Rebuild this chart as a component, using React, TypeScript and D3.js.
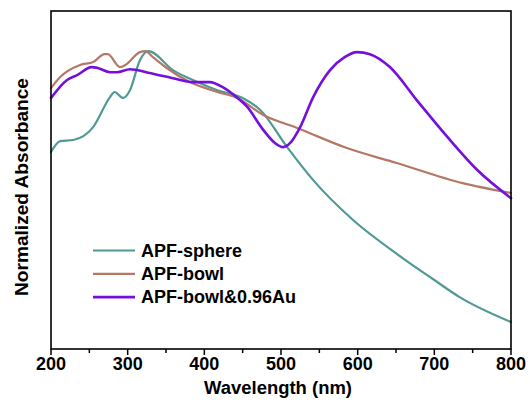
import React from "react";
import * as d3 from "d3";

const sphereWl = [200, 212, 229, 255, 277, 283, 294, 303, 316, 327, 359, 385, 417, 450, 473, 508, 542, 594, 655, 700, 733, 800];
const sphereVal = [0.657, 0.693, 0.697, 0.74, 0.84, 0.857, 0.837, 0.863, 0.963, 0.993, 0.93, 0.897, 0.863, 0.837, 0.797, 0.673, 0.563, 0.43, 0.31, 0.23, 0.173, 0.09];

const bowlWl = [200, 212, 238, 255, 270, 274, 290, 297, 316, 323, 333, 351, 381, 417, 443, 477, 521, 586, 651, 737, 800];
const bowlVal = [0.87, 0.907, 0.947, 0.957, 0.983, 0.983, 0.94, 0.947, 0.99, 0.993, 0.973, 0.937, 0.89, 0.857, 0.837, 0.78, 0.737, 0.67, 0.62, 0.553, 0.52];

const auWl = [200, 221, 234, 253, 261, 277, 286, 303, 312, 329, 359, 385, 407, 424, 437, 456, 477, 492, 503, 512, 525, 542, 564, 583, 599, 616, 642, 677, 717, 756, 800];
const auVal = [0.837, 0.897, 0.913, 0.94, 0.937, 0.923, 0.923, 0.933, 0.93, 0.92, 0.903, 0.89, 0.89, 0.873, 0.85, 0.807, 0.73, 0.687, 0.673, 0.687, 0.74, 0.84, 0.93, 0.973, 0.99, 0.983, 0.94, 0.83, 0.707, 0.597, 0.503];

const seriesNames = ["APF-sphere", "APF-bowl", "APF-bowl&0.96Au"];
const seriesColors = ["#4f9a95", "#b47864", "#7510dc"];
const xTicks = [200, 300, 400, 500, 600, 700, 800];
const xMinorTicks = [250, 350, 450, 550, 650, 750];

export default function App() {
  const W = 530, H = 410;
  const L = 51, R = 511, T = 11, B = 349;
  const x = d3.scaleLinear().domain([200, 800]).range([L, R]);
  const y = d3.scaleLinear().domain([0, 1.127]).range([B, T]);
  const line = d3
    .line<[number, number]>()
    .x((d) => x(d[0]))
    .y((d) => y(d[1]))
    .curve(d3.curveMonotoneX);
  const series = [
    { wl: sphereWl, v: sphereVal, w: 2.2 },
    { wl: bowlWl, v: bowlVal, w: 2.2 },
    { wl: auWl, v: auVal, w: 2.6 },
  ];
  const font = "'Liberation Sans', Arial, sans-serif";
  const fs = 18;
  return (
    <svg width={W} height={H} style={{ position: "absolute", left: 0, top: 0, background: "#fff" }}>
      <g fill="none" strokeLinejoin="round" strokeLinecap="round">
        {series.map((s, i) => (
          <path
            key={i}
            d={line(s.wl.map((w, j) => [w, s.v[j]] as [number, number])) || ""}
            stroke={seriesColors[i]}
            strokeWidth={s.w}
          />
        ))}
      </g>
      <rect x={L} y={T} width={R - L} height={B - T} fill="none" stroke="#000" strokeWidth={1.6} />
      {xTicks.map((t) => (
        <g key={t}>
          <line x1={x(t)} x2={x(t)} y1={B} y2={B + 6} stroke="#000" strokeWidth={1.5} />
          <text x={x(t)} y={370} textAnchor="middle" fontFamily={font} fontWeight="bold" fontSize={fs}>
            {t}
          </text>
        </g>
      ))}
      {xMinorTicks.map((t) => (
        <line key={t} x1={x(t)} x2={x(t)} y1={B} y2={B + 4} stroke="#000" strokeWidth={1.5} />
      ))}
      <text
        x={(L + R) / 2 - 3}
        y={394}
        textAnchor="middle"
        fontFamily={font}
        fontWeight="bold"
        fontSize={fs}
        textLength={148}
        lengthAdjust="spacingAndGlyphs"
      >
        Wavelength (nm)
      </text>
      <text
        transform={`translate(28,187) rotate(-90)`}
        textAnchor="middle"
        fontFamily={font}
        fontWeight="bold"
        fontSize={fs}
        textLength={218}
        lengthAdjust="spacingAndGlyphs"
      >
        Normalized Absorbance
      </text>
      {seriesNames.map((n, i) => {
        const by = 256.5 + i * 23.3;
        return (
          <g key={n}>
            <line x1={93} x2={135} y1={by - 6} y2={by - 6} stroke={seriesColors[i]} strokeWidth={i === 2 ? 2.6 : 2.2} />
            <text x={141} y={by} fontFamily={font} fontWeight="bold" fontSize={fs}>
              {n}
            </text>
          </g>
        );
      })}
    </svg>
  );
}
